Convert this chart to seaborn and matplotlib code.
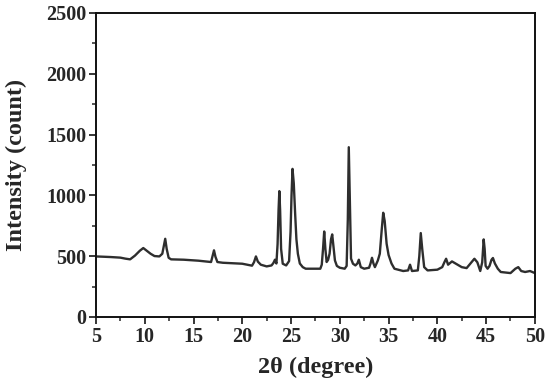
import numpy as np
import pandas as pd
import matplotlib
matplotlib.use("Agg")
import matplotlib.pyplot as plt
from matplotlib.ticker import MultipleLocator
import seaborn as sns

# 2theta positions (degree) and intensity (count)
two_theta = [5.0, 6.0, 6.5, 7.5, 8.0, 8.5, 9.0, 9.5, 9.85, 10.2, 10.6, 11.0, 11.5, 11.8,
             11.95, 12.1, 12.25, 12.45, 12.7, 14.0, 15.5, 16.8, 16.95, 17.1, 17.25,
             17.45, 18.0, 20.0, 21.0, 21.2, 21.4, 21.6, 21.9, 22.5, 23.0, 23.2, 23.35,
             23.5, 23.62, 23.72, 23.8, 23.88, 23.98, 24.15, 24.5, 24.8, 24.95, 25.05,
             25.15, 25.28, 25.42, 25.55, 25.7, 25.9, 26.2, 26.5, 27.5, 28.0, 28.15,
             28.28, 28.4, 28.52, 28.65, 28.8, 28.95, 29.1, 29.22, 29.35, 29.5, 29.7,
             30.0, 30.5, 30.7, 30.82, 30.92, 31.02, 31.15, 31.35, 31.6, 31.8, 31.95,
             32.15, 32.5, 33.0, 33.15, 33.3, 33.45, 33.6, 33.9, 34.1, 34.3, 34.45,
             34.6, 34.8, 35.0, 35.3, 35.6, 36.5, 37.0, 37.2, 37.4, 38.0, 38.15, 38.3,
             38.45, 38.65, 39.0, 40.0, 40.5, 40.75, 40.9, 41.1, 41.5, 42.0, 42.5, 43.0,
             43.4, 43.8, 44.1, 44.4, 44.6, 44.75, 44.85, 44.95, 45.15, 45.35, 45.55,
             45.7, 45.9, 46.2, 46.5, 47.5, 47.8, 48.0, 48.3, 48.6, 49.0, 49.5, 50.0]
intensity = [498, 495, 493, 488, 480, 474, 505, 545, 567, 545, 520, 501, 498, 520,
             580, 643, 560, 487, 474, 471, 463, 452, 500, 548, 495,
             452, 446, 438, 422, 450, 498, 455, 430, 416, 424, 445, 471,
             440, 600, 880, 1035, 880, 560, 438, 424, 460, 700, 1000,
             1218, 1100, 850, 640, 520, 440, 410, 397, 397, 397, 430,
             560, 703, 560, 452, 470, 520, 640, 679, 580, 465, 420,
             405, 397, 420, 800, 1396, 1000, 480, 438, 424, 440, 471,
             410, 397, 405, 440, 487, 440, 410, 465, 520, 720, 857,
             790, 602, 510, 440, 397, 378, 383, 430, 378, 383, 500, 690,
             560, 410, 383, 389, 410, 455, 479, 430, 457, 433, 410, 402,
             440, 479, 450, 378, 450, 638, 560, 420, 397, 420, 470,
             485, 440, 397, 370, 361, 383, 397, 410, 378, 370, 378, 361]

df = pd.DataFrame({"two_theta": two_theta, "intensity": intensity})

sns.set_style("ticks")
plt.rcParams['font.family'] = ['Liberation Serif', 'DejaVu Serif']
plt.rcParams['font.weight'] = 'bold'

fig = plt.figure(figsize=(5.5, 3.81), dpi=100)
ax = fig.add_axes([0.1745, 0.168, 0.798, 0.798])
sns.lineplot(data=df, x="two_theta", y="intensity", color="#2e2e2e", linewidth=1.7, ax=ax)

ax.set_xlim(5, 50)
ax.set_ylim(0, 2500)
ax.xaxis.set_major_locator(MultipleLocator(5))
ax.xaxis.set_minor_locator(MultipleLocator(2.5))
ax.yaxis.set_major_locator(MultipleLocator(500))
ax.yaxis.set_minor_locator(MultipleLocator(250))
ax.tick_params(which="major", direction="out", length=5, width=1.3, labelsize=14.5,
               top=False, right=False, pad=2)
ax.tick_params(which="minor", direction="out", length=3, width=1.1, top=False, right=False)
for lab in ax.get_xticklabels() + ax.get_yticklabels():
    lab.set_fontweight("bold")
for s in ax.spines.values():
    s.set_visible(True)
    s.set_linewidth(1.4)
    s.set_color("#111111")

ax.set_xlabel("2θ (degree)", fontsize=17.5, fontweight="bold", labelpad=7)
ax.set_ylabel("Intensity (count)", fontsize=17.5, fontweight="bold", labelpad=14)

plt.savefig("out.png", dpi=100)
plt.close()
